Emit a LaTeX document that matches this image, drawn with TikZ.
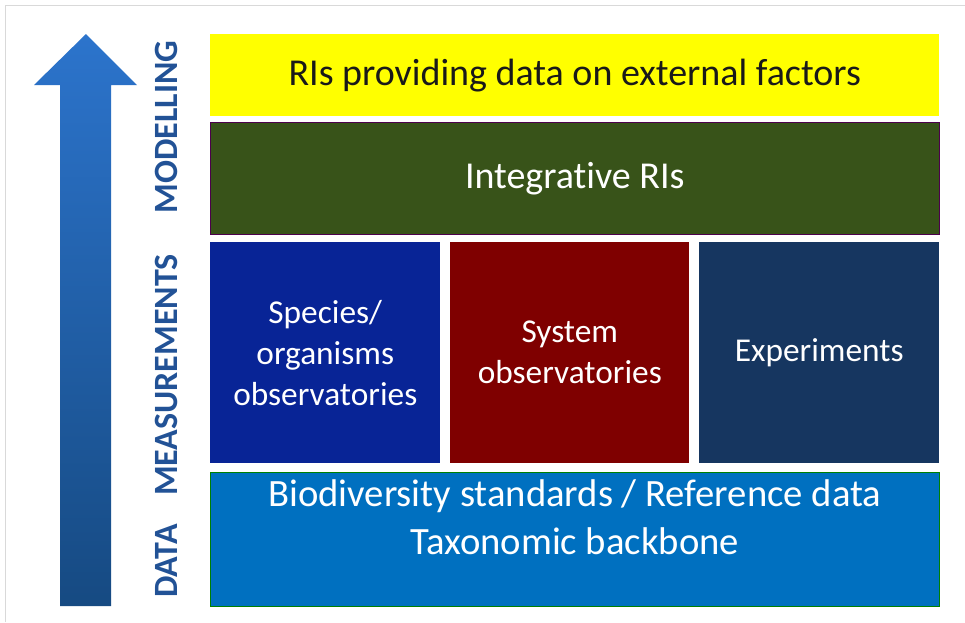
\documentclass[tikz,border=0pt]{standalone}
\usepackage{fontspec}
\setmainfont{Carlito}[Ligatures=NoCommon]
\begin{document}
\begin{tikzpicture}[
	x=0.75pt, y=-0.75pt,
	layerbox/.style={anchor=north west, inner sep=0pt, align=center, font=\fontsize{28.5}{31}\selectfont},
	obsbox/.style={layerbox, text=white, minimum height=221*0.75pt, font=\fontsize{25}{30.75}\selectfont},
	levellabel/.style={rotate=90, text=levelblue, font=\fontsize{25.5}{28}\selectfont\bfseries},
	]
		\definecolor{levelblue}{RGB}{34, 82, 150}
		\definecolor{arrowtop}{RGB}{44, 116, 204}
		\definecolor{arrowbottom}{RGB}{22, 74, 130}
		\definecolor{modelyellow}{RGB}{255, 255, 0}
		\definecolor{integgreen}{RGB}{56, 83, 25}
		\definecolor{speciesblue}{RGB}{8, 36, 150}
		\definecolor{systemred}{RGB}{127, 0, 0}
		\definecolor{expnavy}{RGB}{22, 54, 96}
		\definecolor{datablue}{RGB}{0, 112, 192}
	\useasboundingbox (0, 0) rectangle (965, 622);

	% frame
	\draw[black!15, thin] (5, 622) -- (5, 5) -- (965, 5);

	% arrow
	\shade[top color=arrowtop, bottom color=arrowbottom]
		(86, 34) -- (137, 85) -- (111, 85) -- (111, 606) -- (60, 606) -- (60, 85) -- (34, 85) -- cycle;

	% level labels
	\node[levellabel] (modelling) at (166, 127) {MODELLING};
	\node[levellabel] (measurements) at (166, 375) {MEASUREMENTS};
	\node[levellabel] (data) at (166, 561) {DATA};

	% top layers
	\node[layerbox, fill=modelyellow, text=black!90, minimum width=729*0.75pt, minimum height=82*0.75pt] (external) at (210, 34) {RIs providing data on external factors};
	\node[layerbox, fill=integgreen, draw=violet!60!black, text=white, minimum width=729*0.75pt, minimum height=112*0.75pt] (integrative) at (210, 122) {Integrative RIs};

	% observatories
	\node[obsbox, fill=speciesblue, minimum width=230*0.75pt] (species) at (210, 242) {Species/\\organisms\\observatories};
	\node[obsbox, fill=systemred, minimum width=239*0.75pt] (system) at (450, 242) {System\\observatories};
	\node[obsbox, fill=expnavy, minimum width=240*0.75pt] (experiments) at (699, 242) {Experiments};

	% data layer
	\node[layerbox, fill=datablue, draw=green!50!black, text=white, minimum width=729*0.75pt, minimum height=134*0.75pt, font=\fontsize{29}{36}\selectfont] (reference) at (210, 472) {Biodiversity standards / Reference data\\Taxonomic backbone\\[-13pt]\strut};
\end{tikzpicture}
\end{document}
